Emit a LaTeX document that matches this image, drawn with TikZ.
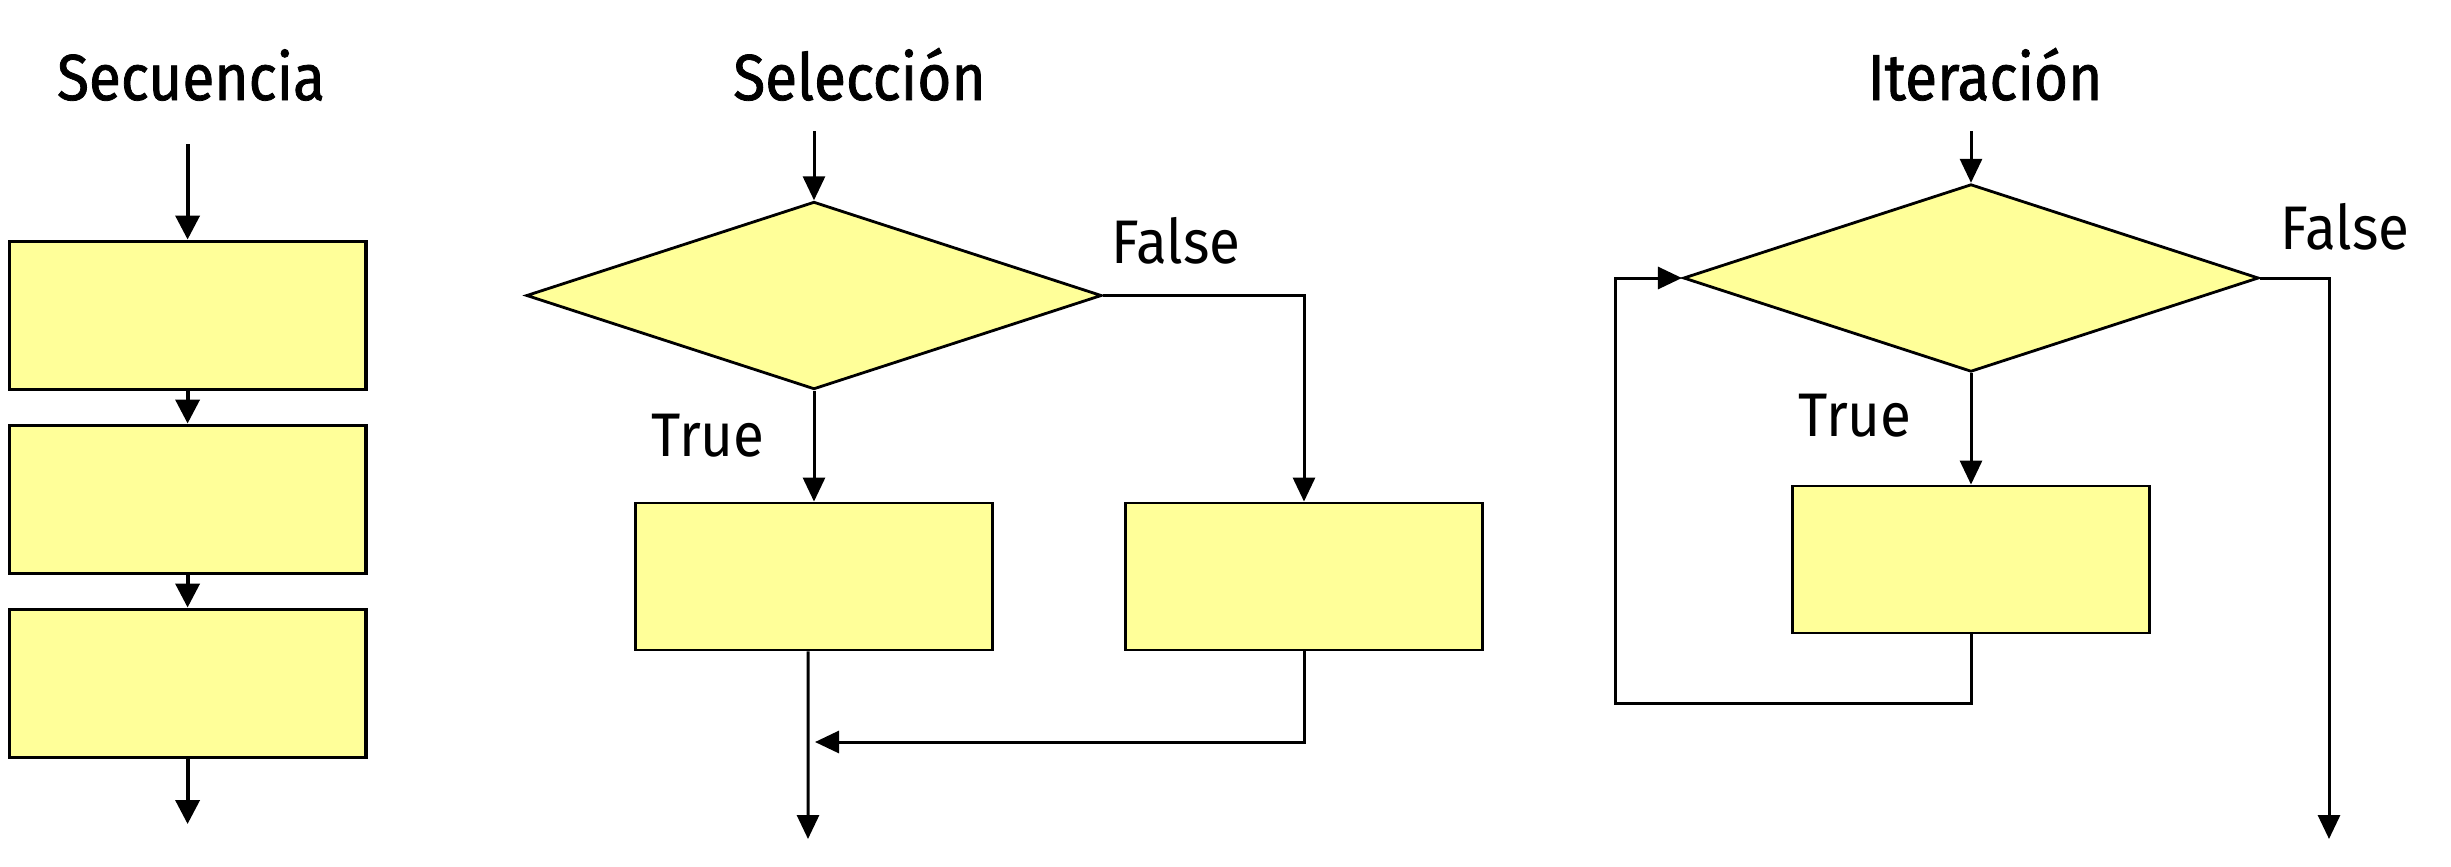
\documentclass[tikz,border=0pt]{standalone}
\usepackage{fontspec}
\setmainfont{Fira Sans}
\newfontfamily\titlefont[FakeBold=1.2,FakeStretch=0.9]{Fira Sans}
\newfontfamily\labelfont[FakeStretch=0.92]{Fira Sans}
\usetikzlibrary{arrows.meta,shapes.geometric}
\definecolor{boxfill}{HTML}{FFFF99}
\tikzset{
  pbox/.style={draw=black, fill=boxfill, line width=0.8pt, rectangle, inner sep=0pt},
  sbox/.style={pbox, line width=1.1pt, minimum width=3.56cm, minimum height=1.48cm},
  wbox/.style={pbox, minimum width=3.57cm, minimum height=1.47cm},
  cond/.style={draw=black, fill=boxfill, line width=0.8pt, diamond, inner sep=0pt, minimum width=5.75cm, minimum height=1.875cm, shape aspect=3.07},
  arr/.style={draw=black, line width=0.85pt, -{Triangle[length=0.24cm,width=0.22cm]}},
  sarr/.style={arr, line width=1.1pt, -{Triangle[length=0.24cm,width=0.24cm]}},
  line/.style={draw=black, line width=0.8pt},
  ttl/.style={anchor=base, font=\titlefont\fontsize{18.5}{20}\selectfont, inner sep=0pt},
  lbl/.style={anchor=base, font=\labelfont\fontsize{17.5}{19}\selectfont, inner sep=0pt}
}
\begin{document}
\begin{tikzpicture}[x=0.01cm, y=-0.01cm]
\useasboundingbox (0,0) rectangle (2451,866);
% ---------- Secuencia ----------
\node[ttl] (t1) at (191,100) {Secuencia};
\coordinate (s0) at (187.6,144);
\node[sbox] (s1) at (187.6,315.5) {};
\node[sbox] (s2) at (187.6,499.5) {};
\node[sbox] (s3) at (187.6,683.5) {};
\coordinate (s4) at (187.6,824);
\draw[sarr] (s0) -- (s1.north);
\draw[sarr] (s1.south) -- (s2.north);
\draw[sarr] (s2.south) -- (s3.north);
\draw[sarr] (s3.south) -- (s4);
% ---------- Seleccion ----------
\node[ttl] (t2) at (859.5,100) {Selección};
\coordinate (a0) at (814,131);
\node[cond] (d1) at (814,295.5) {};
\node[wbox] (tb1) at (814,576.5) {};
\node[wbox] (fb1) at (1304,576.5) {};
\coordinate (selm) at (815,742);
\coordinate (selout) at (808,839);
\draw[arr] (a0) -- (d1.north);
\draw[arr] (d1.south) -- (tb1.north);
\draw[arr] (d1.east) -| (fb1.north);
\draw[arr] ([xshift=-0.06cm]tb1.south) -- (selout);
\draw[arr] (fb1.south) |- (selm);
\node[lbl] (f1) at (1176,263) {False};
\node[lbl] (tr1) at (708,456) {True};
% ---------- Iteracion ----------
\node[ttl] (t3) at (1985,100) {Iteración};
\coordinate (b0) at (1971,131);
\node[cond] (d2) at (1971,278) {};
\node[wbox] (b2) at (1971,559.5) {};
\coordinate (lp) at (1615,703);
\coordinate (ex2) at (2329,839);
\draw[arr] (b0) -- (d2.north);
\draw[arr] (d2.south) -- (b2.north);
\draw[arr] (b2.south) |- (lp) |- (d2.west);
\draw[arr] (d2.east) -| (ex2);
\node[lbl] (f2) at (2345,249) {False};
\node[lbl] (tr2) at (1855,436) {True};
\end{tikzpicture}
\end{document}
